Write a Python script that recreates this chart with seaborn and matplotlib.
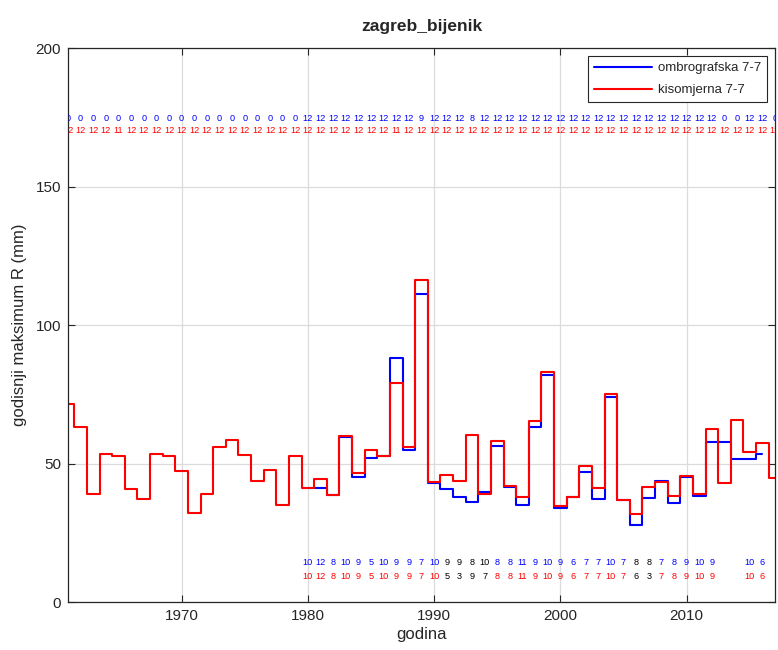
import numpy as np
import pandas as pd
import matplotlib
matplotlib.use('Agg')
import matplotlib.pyplot as plt
import seaborn as sns

nan = np.nan

# godine 1961-2017
godine = list(range(1961, 2018))

# godisnji maksimumi (mm), ocitano s grafa
kisomjerna = [71.4, 63.1, 39.0, 53.4, 52.8, 40.8, 37.3, 53.4, 52.8, 47.3,
              32.1, 38.9, 56.0, 58.6, 53.1, 43.8, 47.5, 35.0, 52.7, 41.0,
              44.4, 38.5, 60.0, 46.7, 55.0, 52.7, 79.2, 56.1, 116.1, 43.2,
              45.8, 43.7, 60.4, 39.0, 58.0, 42.0, 38.0, 65.3, 83.1, 34.8,
              38.0, 49.2, 41.2, 75.1, 36.8, 31.7, 41.6, 43.4, 38.2, 45.5,
              39.1, 62.6, 42.8, 65.7, 54.0, 57.5, 44.7]
ombrografska = [nan] * 19 + [
              41.3, 41.3, 38.5, 59.7, 45.1, 52.1, 52.7, 88.1, 54.9, 111.1,
              42.8, 40.8, 37.8, 36.1, 39.6, 56.4, 41.5, 35.0, 63.2, 81.9,
              34.0, 38.0, 47.0, 37.1, 74.0, 36.8, 27.9, 37.4, 43.7, 35.8,
              45.2, 38.4, 57.7, nan, nan, 51.6, 53.4, nan]

# broj mjeseci s podacima
ombro_mjeseci = [0] * 19 + [12] * 9 + [9] + [12] * 3 + [8] + [12] * 19 + [0, 0, 12, 12, 0]
kiso_mjeseci = [12] * 4 + [11] + [12] * 21 + [11] + [12] * 30

# mjesec pojave maksimuma
mj_godine = list(range(1980, 2013)) + [2015, 2016]
ombro_mj_max = [10, 12, 8, 10, 9, 5, 10, 9, 9, 7, 10, 9, 9, 8, 10, 8, 8, 11,
                9, 10, 9, 6, 7, 7, 10, 7, 8, 8, 7, 8, 9, 10, 9, 10, 6]
kiso_mj_max = [10, 12, 8, 10, 9, 5, 10, 9, 9, 7, 10, 5, 3, 9, 7, 8, 8, 11,
               9, 10, 9, 6, 7, 7, 10, 7, 6, 3, 7, 8, 9, 10, 9, 10, 6]

serije = ['ombrografska 7-7', 'kisomjerna 7-7']
boje = {'ombrografska 7-7': 'blue', 'kisomjerna 7-7': 'red'}

df = pd.DataFrame({
    'godina': godine * 2,
    'R': ombrografska + kisomjerna,
    'serija': [serije[0]] * len(godine) + [serije[1]] * len(godine),
})

sns.set_theme(style='whitegrid')
plt.rcParams['font.family'] = ['Liberation Sans', 'DejaVu Sans']

fig, ax = plt.subplots(figsize=(7.78, 6.5), dpi=100)
fig.subplots_adjust(left=0.0874, right=0.9961, bottom=0.0738, top=0.926)

sns.lineplot(data=df, x='godina', y='R', hue='serija', hue_order=serije,
             palette=boje, estimator=None, drawstyle='steps-mid',
             linewidth=1.5, ax=ax)

fs = 6.6
# broj mjeseci (gore)
for g, m in zip(godine, ombro_mjeseci):
    ax.text(g, 174.7, str(m), color='blue', ha='center', va='center',
            fontsize=fs, clip_on=True)
for g, m in zip(godine, kiso_mjeseci):
    ax.text(g, 170.2, str(m), color='red', ha='center', va='center',
            fontsize=fs, clip_on=True)

# mjesec maksimuma (dolje), crno ako se razlikuju
for g, b, r in zip(mj_godine, ombro_mj_max, kiso_mj_max):
    ista = b == r
    ax.text(g, 14.2, str(b), color='blue' if ista else 'black', ha='center',
            va='center', fontsize=fs, clip_on=True)
    ax.text(g, 9.1, str(r), color='red' if ista else 'black', ha='center',
            va='center', fontsize=fs, clip_on=True)

ax.set_xlim(1961, 2017)
ax.set_ylim(0, 200)
ax.set_xticks([1970, 1980, 1990, 2000, 2010])
ax.set_yticks([0, 50, 100, 150, 200])
ax.grid(True, color='#dcdcdc', linewidth=0.9)
ax.tick_params(direction='in', length=5, width=0.8, top=True, right=True,
               bottom=True, left=True, labelsize=11, colors='#262626',
               pad=5)
for s in ax.spines.values():
    s.set_visible(True)
    s.set_color('#262626')
    s.set_linewidth(0.9)

ax.set_title('zagreb_bijenik', fontsize=12.5, fontweight='bold', pad=12)
ax.set_xlabel('godina', fontsize=12, color='#262626', labelpad=3)
ax.set_ylabel('godisnji maksimum R (mm)', fontsize=12, color='#262626', labelpad=6)

leg = ax.legend(loc='upper right', fontsize=9.5, frameon=True, fancybox=False,
                framealpha=1, edgecolor='#262626', borderaxespad=0.6,
                handlelength=4.4, handletextpad=0.45, labelspacing=0.75,
                borderpad=0.45, title=None)
leg.get_frame().set_linewidth(0.8)

fig.savefig('out.png', dpi=100)
